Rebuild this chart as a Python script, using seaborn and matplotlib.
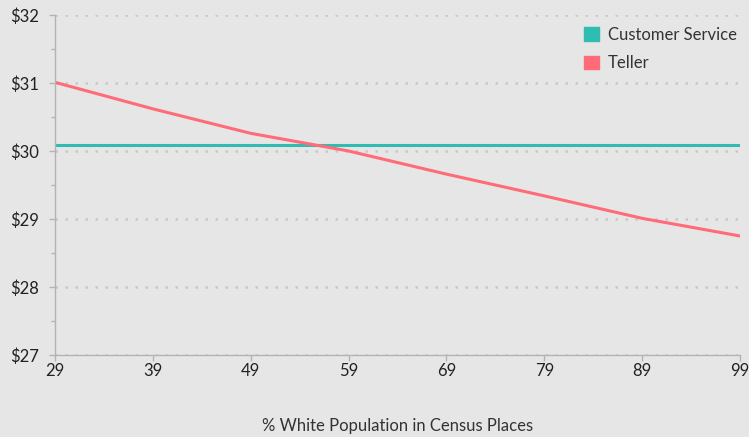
import numpy as np
import pandas as pd
import matplotlib
matplotlib.use("Agg")
import matplotlib.pyplot as plt
import seaborn as sns
from matplotlib.patches import Patch
from matplotlib.ticker import MultipleLocator, FuncFormatter

# data
white_pct = [29, 39, 49, 59, 69, 79, 89, 99]
teller = [31.01, 30.62, 30.26, 30.00, 29.66, 29.34, 29.01, 28.75]
customer_service = [30.09, 30.09, 30.09, 30.09, 30.09, 30.09, 30.09, 30.09]

df = pd.DataFrame({
    'pct': white_pct * 2,
    'wage': customer_service + teller,
    'job': ['Customer Service'] * len(white_pct) + ['Teller'] * len(white_pct),
})

bg = '#e6e6e6'
colors = {'Customer Service': '#2ebdb0', 'Teller': '#ff6b78'}

sns.set_style('white')
plt.rcParams['font.family'] = ['Lato', 'DejaVu Sans']

fig = plt.figure(figsize=(7.49, 4.37), dpi=100, facecolor=bg)
ax = fig.add_axes([55 / 749, 1 - 355 / 437, 685 / 749, 340 / 437])
ax.set_facecolor(bg)

sns.lineplot(data=df, x='pct', y='wage', hue='job', palette=colors,
             linewidth=2.2, ax=ax, legend=False)

ax.set_xlim(29, 99)
ax.set_ylim(27, 32)
ax.set_xticks(white_pct)
ax.yaxis.set_major_locator(MultipleLocator(1))
ax.yaxis.set_minor_locator(MultipleLocator(0.5))
ax.yaxis.set_major_formatter(FuncFormatter(lambda v, p: f'${v:.0f}'))

ax.grid(axis='y', which='major', color='#c8c8c8', linestyle=(0, (1, 3)), linewidth=1.8)
ax.grid(axis='x', visible=False)

for s in ['top', 'right']:
    ax.spines[s].set_visible(False)
for s in ['left', 'bottom']:
    ax.spines[s].set_color('#b3b3b3')
    ax.spines[s].set_linewidth(1)

ax.tick_params(axis='both', which='both', colors='#b3b3b3', length=4, width=1,
               labelcolor='#222222', labelsize=12, left=True, bottom=True)
ax.tick_params(axis='y', which='minor', length=3)
ax.tick_params(axis='x', pad=2)
ax.tick_params(axis='y', pad=7.5)

ax.set_xlabel('% White Population in Census Places', fontsize=12, color='#333333', labelpad=28)
ax.set_ylabel('')

handles = [Patch(color=colors[k], label=k) for k in ['Customer Service', 'Teller']]
ax.legend(handles=handles, loc='upper right', frameon=False, fontsize=12,
          handlelength=0.85, handleheight=0.85, handletextpad=0.55,
          labelspacing=0.75, labelcolor='#333333', borderaxespad=0.0,
          bbox_to_anchor=(1.005, 0.985))

fig.savefig('out.png', dpi=100, facecolor=bg)
